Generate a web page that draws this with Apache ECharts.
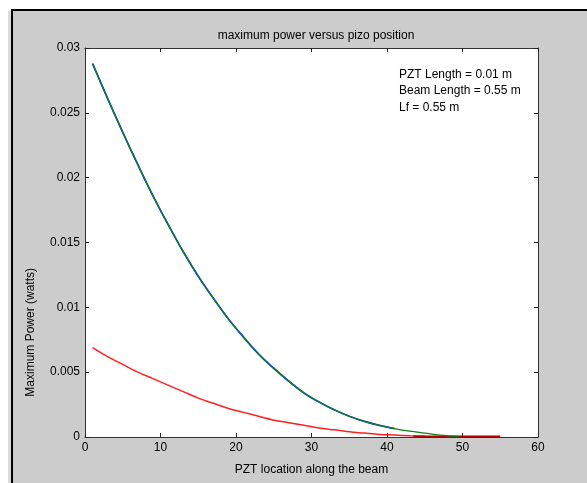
<!DOCTYPE html>
<html>
<head>
<meta charset="utf-8">
<script src="https://cdn.jsdelivr.net/npm/echarts@6/dist/echarts.min.js"></script>
<style>
html,body{margin:0;padding:0;background:#fff;}
#chart{width:587px;height:483px;}
</style>
</head>
<body>
<div id="chart"></div>
<script>
// ---- data ----
const titleText = 'maximum power versus pizo position';
const xAxisName = 'PZT location along the beam';
const yAxisName = 'Maximum Power (watts)';
const noteLines = ['PZT Length = 0.01 m', 'Beam Length = 0.55 m', 'Lf = 0.55 m'];

const xTicks = [0, 10, 20, 30, 40, 50, 60];
const yTicks = [0, 0.005, 0.01, 0.015, 0.02, 0.025, 0.03];
const yTickLabels = ['0', '0.005', '0.01', '0.015', '0.02', '0.025', '0.03'];

const blueX = [1, 3, 5, 7, 9, 11, 13, 15, 17, 19, 21, 23, 25, 27, 29, 31, 33, 35, 37, 39, 41];
const bluePower = [0.0288, 0.0261, 0.0235, 0.0210, 0.0186, 0.0164, 0.0143, 0.0124, 0.0107, 0.0091, 0.0077, 0.0064, 0.0053, 0.0043, 0.0034, 0.0027, 0.0021, 0.0016, 0.0012, 0.0009, 0.00065];

const greenX = [1, 3, 5, 7, 9, 11, 13, 15, 17, 19, 21, 23, 25, 27, 29, 31, 33, 35, 37, 39, 41, 43, 45, 47, 49.5];
const greenPower = [0.0288, 0.0261, 0.0235, 0.0210, 0.0186, 0.0164, 0.0143, 0.0124, 0.0107, 0.0091, 0.0077, 0.0064, 0.0053, 0.0043, 0.0034, 0.0027, 0.0021, 0.0016, 0.0012, 0.0009, 0.00065, 0.00045, 0.0003, 0.00015, 0.00005];

const redX = [1, 3, 5, 7, 9, 11, 13, 15, 17, 19, 21, 23, 25, 27, 29, 31, 33, 35, 37, 39, 41, 43, 45];
const redPower = [0.0069, 0.0062, 0.0056, 0.0050, 0.0045, 0.0040, 0.0035, 0.0030, 0.0026, 0.0022, 0.0019, 0.0016, 0.0013, 0.0011, 0.0009, 0.0007, 0.00055, 0.0004, 0.0003, 0.0002, 0.00015, 0.0001, 0.00006];

const darkRedX = [43.5, 55];
const darkRedPower = [0.00003, 0.00003];

// ---- chart ----
const pairs = (xs, ys) => xs.map((x, i) => [x, ys[i]]);
const FONT = '"Liberation Sans", Arial, sans-serif';
const chart = echarts.init(document.getElementById('chart'), null, {renderer: 'canvas'});

const baseAxis = {
  type: 'value',
  axisLine: {show: true, onZero: false, lineStyle: {color: '#333', width: 1}},
  axisTick: {show: true, inside: true, length: 4, lineStyle: {color: '#222'}},
  splitLine: {show: false}
};

chart.setOption({
  backgroundColor: '#ffffff',
  animation: false,
  title: {
    text: titleText,
    left: 311, top: 25, textAlign: 'center',
    textStyle: {fontFamily: FONT, fontSize: 12, fontWeight: 'normal', color: '#000'}
  },
  graphic: [
    {type: 'rect', z: -10, shape: {x: 12, y: 10, width: 600, height: 500},
     style: {fill: '#cccccc', stroke: '#000', lineWidth: 2}},
    {type: 'rect', z: -11, shape: {x: 8, y: 11, width: 4, height: 500},
     style: {fill: '#dcdcdc'}},
    {type: 'text', left: 32 - 7, top: 268, rotation: Math.PI / 2, z: 10,
     style: {text: yAxisName, fontFamily: FONT, fontSize: 12, fill: '#000', textAlign: 'center', textVerticalAlign: 'middle'}},
    {type: 'text', left: 399, top: 66, z: 10,
     style: {text: noteLines.join('\n'), fontFamily: FONT, fontSize: 12, lineHeight: 16.5, fill: '#000'}}
  ],
  grid: {left: 85, top: 48, right: 49, bottom: 46, containLabel: false, show: true, backgroundColor: '#fff', borderWidth: 0},
  xAxis: [
    Object.assign({}, baseAxis, {
      position: 'bottom', min: xTicks[0], max: xTicks[xTicks.length - 1], interval: xTicks[1] - xTicks[0],
      name: xAxisName, nameLocation: 'middle', nameGap: 27,
      nameTextStyle: {fontFamily: FONT, fontSize: 12, color: '#000'},
      axisLabel: {fontFamily: FONT, fontSize: 12, color: '#000', margin: 5}
    }),
    Object.assign({}, baseAxis, {
      position: 'top', min: xTicks[0], max: xTicks[xTicks.length - 1], interval: xTicks[1] - xTicks[0],
      axisLabel: {show: false}
    })
  ],
  yAxis: [
    Object.assign({}, baseAxis, {
      position: 'left', min: yTicks[0], max: yTicks[yTicks.length - 1], interval: yTicks[1] - yTicks[0],
      axisLabel: {fontFamily: FONT, fontSize: 12, color: '#000', margin: 5,
        formatter: v => { const i = yTicks.findIndex(t => Math.abs(t - v) < 1e-9); return i >= 0 ? yTickLabels[i] : ''; }}
    }),
    Object.assign({}, baseAxis, {
      position: 'right', min: yTicks[0], max: yTicks[yTicks.length - 1], interval: yTicks[1] - yTicks[0],
      axisLabel: {show: false}
    })
  ],
  series: [
    {type: 'line', data: pairs(redX, redPower), showSymbol: false, smooth: 0.4,
     lineStyle: {color: '#ff2020', width: 1.5}, z: 3},
    {type: 'line', data: pairs(darkRedX, darkRedPower), showSymbol: false,
     lineStyle: {color: '#b00000', width: 2}, z: 4},
    {type: 'line', data: pairs(blueX, bluePower), showSymbol: false, smooth: 0.4,
     lineStyle: {color: '#1030ff', width: 1.8}, z: 5},
    {type: 'line', data: pairs(greenX, greenPower), showSymbol: false, smooth: 0.4,
     lineStyle: {color: '#108010', width: 1.2}, z: 6}
  ]
});
</script>
</body>
</html>
